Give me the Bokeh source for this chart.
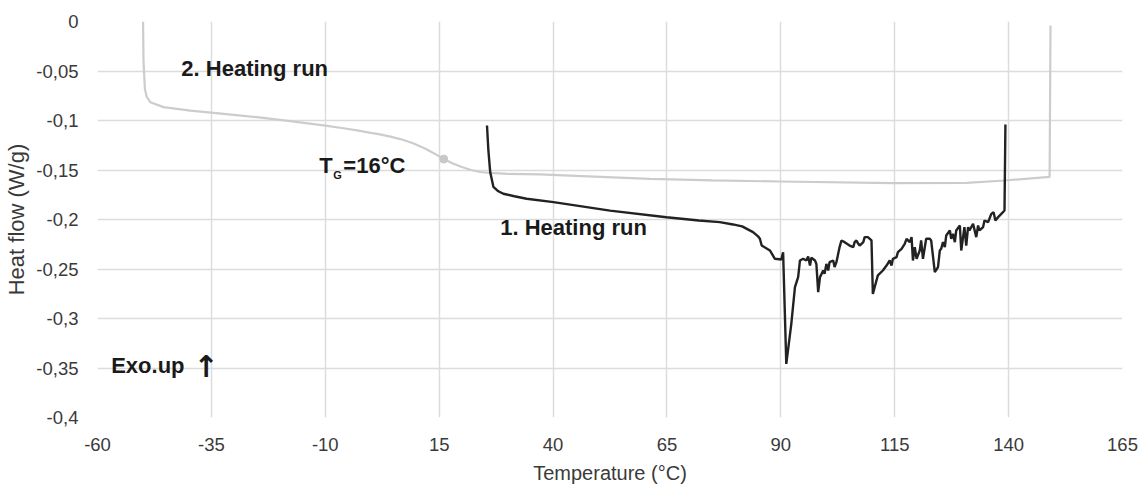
from bokeh.plotting import figure
from bokeh.models import Range1d, FixedTicker
from bokeh.core.properties import value
from bokeh.embed import file_html
from bokeh.resources import INLINE

# 1st heating run (dark curve)
run1_temp = [25.5, 25.8, 26.2, 26.9, 28.0, 29.1, 31.5, 34.2, 40.1, 52.5, 64.9, 72.0, 76.6,
             79.5, 81.5, 83.9, 85.0, 85.4, 85.8, 87.6, 88.7, 90.1, 90.5, 91.2, 92.3, 93.1,
             93.8, 94.2, 94.9, 95.6, 96.0, 96.4, 96.7, 97.5, 97.8, 98.2, 98.6, 99.3, 99.6,
             100.0, 100.4, 100.7, 101.5, 101.8, 102.2, 102.9, 103.3, 104.0, 105.1, 105.9,
             106.2, 106.6, 107.0, 107.3, 108.1, 108.4, 109.1, 109.9, 110.2, 110.6, 111.3,
             112.4, 113.2, 113.9, 114.3, 114.6, 115.4, 115.7, 116.5, 117.2, 117.6, 118.3,
             118.7, 119.0, 119.4, 119.8, 120.5, 120.8, 121.2, 121.9, 122.7, 123.0, 123.8,
             124.5, 124.9, 125.2, 125.6, 126.0, 126.3, 127.1, 127.4, 127.8, 128.2, 128.5,
             129.3, 129.6, 130.3, 130.7, 131.1, 131.4, 132.2, 132.9, 133.3, 133.6, 134.4,
             134.7, 135.5, 136.2, 136.7, 137.1, 137.7, 138.4, 139.1, 139.3]
run1_flow = [-0.105, -0.130, -0.152, -0.167, -0.1715, -0.174, -0.1765, -0.179, -0.1825,
             -0.191, -0.1977, -0.201, -0.2027, -0.205, -0.207, -0.2128, -0.217, -0.2195,
             -0.2263, -0.2313, -0.2397, -0.2404, -0.2330, -0.3458, -0.3054, -0.2683,
             -0.2582, -0.2414, -0.2397, -0.2414, -0.2374, -0.2465, -0.2387, -0.2414,
             -0.2448, -0.2734, -0.2582, -0.2515, -0.2549, -0.2448, -0.2515, -0.2431,
             -0.2414, -0.2481, -0.2431, -0.2279, -0.2212, -0.2229, -0.2263, -0.2279,
             -0.2229, -0.2212, -0.2246, -0.2263, -0.2229, -0.2178, -0.2178, -0.2212,
             -0.2751, -0.2683, -0.2565, -0.2515, -0.2465, -0.2414, -0.2465, -0.2397,
             -0.2380, -0.2330, -0.2296, -0.2246, -0.2195, -0.2229, -0.2178, -0.2414,
             -0.2279, -0.2397, -0.2313, -0.2212, -0.2397, -0.2195, -0.2195, -0.2212,
             -0.2532, -0.2481, -0.2313, -0.2296, -0.2229, -0.2279, -0.2162, -0.2111,
             -0.2195, -0.2145, -0.2229, -0.2111, -0.2061, -0.2313, -0.2077, -0.2263,
             -0.2077, -0.2111, -0.2044, -0.2178, -0.2061, -0.2111, -0.2077, -0.2010,
             -0.2027, -0.1943, -0.1926, -0.2010, -0.1976, -0.1943, -0.1909, -0.1040]

# 2nd heating run (light curve)
run2_temp = [-50.0, -49.9, -49.6, -49.2, -48.4, -45.5, -39.6, -32.3, -25.0, -17.7, -10.4,
             -6.0, -3.0, 0.0, 2.0, 4.3, 7.0, 9.4, 12.0, 14.0, 16.0, 18.0, 20.0, 22.0, 24.0,
             26.2, 30.0, 37.1, 45.0, 61.3, 75.0, 89.8, 114.6, 130.8, 139.1, 149.0, 149.2]
run2_flow = [0.0, -0.040, -0.068, -0.076, -0.0815, -0.0865, -0.090, -0.0933, -0.0966,
             -0.1007, -0.105, -0.1078, -0.1100, -0.1125, -0.1140, -0.1163, -0.1195,
             -0.1232, -0.1285, -0.1335, -0.139, -0.1435, -0.147, -0.150, -0.152, -0.153,
             -0.154, -0.1545, -0.156, -0.159, -0.1605, -0.1616, -0.1633, -0.163, -0.1606,
             -0.157, -0.004]

# glass transition point
tg_temp = [16.0]
tg_flow = [-0.139]

x_ticks = [-60, -35, -10, 15, 40, 65, 90, 115, 140, 165]
y_ticks = [0, -0.05, -0.1, -0.15, -0.2, -0.25, -0.3, -0.35, -0.4]
y_tick_labels = ["0", "-0,05", "-0,1", "-0,15", "-0,2", "-0,25", "-0,3", "-0,35", "-0,4"]

FONT = "Liberation Sans"
GRID = "#dcdcdc"
TICK_COLOR = "#3a3a3a"

p = figure(width=1142, height=486, output_backend="svg", toolbar_location=None,
           x_range=Range1d(-60, 165), y_range=Range1d(-0.4, 0),
           min_border_left=97, min_border_right=20, min_border_top=21, min_border_bottom=68)
p.outline_line_color = None
p.background_fill_color = "white"
p.border_fill_color = "white"

p.xaxis.ticker = FixedTicker(ticks=x_ticks)
p.yaxis.ticker = FixedTicker(ticks=y_ticks)
p.yaxis.major_label_overrides = {t: s for t, s in zip(y_ticks, y_tick_labels)}
p.xaxis.major_label_overrides = {t: str(t) for t in x_ticks}

for ax in (p.xaxis, p.yaxis):
    ax.axis_line_color = None
    ax.major_tick_line_color = None
    ax.minor_tick_line_color = None
    ax.major_label_text_font = FONT
    ax.major_label_text_font_size = "18.5px"
    ax.major_label_text_color = TICK_COLOR
    ax.axis_label_text_font = FONT
    ax.axis_label_text_font_style = "normal"
    ax.axis_label_text_color = TICK_COLOR

p.xaxis.axis_label = "Temperature (°C)"
p.yaxis.axis_label = "Heat flow (W/g)"
p.xaxis.axis_label_text_font_size = "20px"
p.yaxis.axis_label_text_font_size = "22px"
p.xaxis.major_label_standoff = 14
p.xaxis.axis_label_standoff = 8
p.yaxis.major_label_standoff = 13
p.yaxis.axis_label_standoff = 4

p.xgrid.grid_line_color = GRID
p.ygrid.grid_line_color = GRID
p.xgrid.grid_line_width = 1.5
p.ygrid.grid_line_width = 1.5

p.line(run2_temp, run2_flow, line_color="#cccccc", line_width=2.2)
p.scatter(tg_temp, tg_flow, size=8, fill_color="#c8c8c8", line_color="#c8c8c8")
p.line(run1_temp, run1_flow, line_color="#222222", line_width=2.4)

label_style = dict(text_font=value(FONT), text_font_style="bold", text_color="#1a1a1a",
                   text_baseline="middle", text_align="left")

p.text(x=[-41.6], y=[-0.0475], text=["2. Heating run"], text_font_size="22px", **label_style)
p.text(x=[28.4], y=[-0.208], text=["1. Heating run"], text_font_size="22px", **label_style)
p.text(x=[-57.0], y=[-0.3475], text=["Exo.up"], text_font_size="22px", **label_style)
p.text(x=[-57.0], y=[-0.3475], text=["\u2191"], text_font=value("DejaVu Sans"),
       text_font_style="bold", text_color="#1a1a1a", text_baseline="middle",
       text_align="center", text_font_size="30px", x_offset=95, y_offset=1)

# T with subscript G, then "=16°C"
p.text(x=[-11.3], y=[-0.145], text=["T"], text_font_size="22px", **label_style)
p.text(x=[-11.3], y=[-0.145], text=["G"], text_font_size="11px", x_offset=14, y_offset=10,
       **label_style)
p.text(x=[-11.3], y=[-0.145], text=["=16°C"], text_font_size="22px", x_offset=24,
       **label_style)

open("out.html", "w").write(file_html(p, INLINE))
